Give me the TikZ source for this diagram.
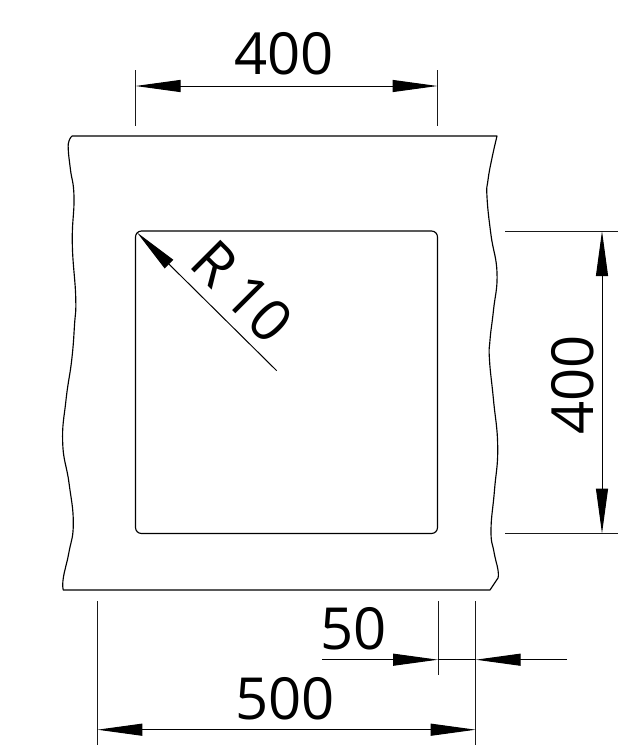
\documentclass[tikz,border=0pt]{standalone}
\usepackage{fontspec}
\setmainfont{Open Sans}
\usetikzlibrary{arrows.meta}
\tikzset{
  outline/.style={line width=1.15pt,black,line join=round},
  extline/.style={line width=1pt,black!90},
  dimline/.style={line width=1pt,black},
  bigtip/.tip={Triangle[length=45pt,width=12pt,color=black]},
  dimboth/.style={dimline,{bigtip}-{bigtip}},
  dimend/.style={dimline,-{bigtip}},
  dimtext/.style={inner sep=0pt,font=\fontsize{58}{58}\selectfont,black}
}
\begin{document}
\begin{tikzpicture}[x=1pt,y=-1pt]
\useasboundingbox (0,0) rectangle (637,755);
\fill[white] (0,0) rectangle (637,755);
% worktop outline with wavy cut edges
\draw[outline] (72,136) -- (497,136)
  -- plot[smooth,tension=0.8] coordinates {(497,136) (492,158) (488,180) (487,197) (491,235) (497,273) (493.5,310) (490,340) (489.5,360) (493.5,400) (497.7,447) (494.5,490) (491,530) (494,552) (498,570) (498,578)}
  -- (490,590) -- (63.3,590)
  -- plot[smooth,tension=0.8] coordinates {(63.3,590) (63.3,578) (69,552) (73.3,523) (69,483) (62.7,443) (66,400) (71.7,360) (74.5,325) (75.7,297) (72.3,243) (74,197) (70.5,170) (68.3,150) (69,141) (72,136)};
% sink opening
\draw[outline,rounded corners=6pt] (135.5,231) rectangle (437.5,533.5);
% named points
\coordinate (tl1) at (135.5,70);  \coordinate (tl2) at (135.5,126);
\coordinate (tr1) at (437.5,70);  \coordinate (tr2) at (437.5,126);
\coordinate (td1) at (135.5,86);  \coordinate (td2) at (437.5,86);
\coordinate (ra1) at (505,231);   \coordinate (ra2) at (618,231);
\coordinate (rb1) at (505,533.5); \coordinate (rb2) at (618,533.5);
\coordinate (rd1) at (602,231);   \coordinate (rd2) at (602,533.5);
\coordinate (bl1) at (97.3,601);  \coordinate (bl2) at (97.3,745);
\coordinate (br1) at (475.7,601); \coordinate (br2) at (475.7,745);
\coordinate (bm1) at (438,601);   \coordinate (bm2) at (438,675);
\coordinate (bd1) at (97.3,729.7); \coordinate (bd2) at (475.7,729.7);
\coordinate (fa) at (322,659.7);  \coordinate (fb) at (438,659.7);
\coordinate (fc) at (475.7,659.7); \coordinate (fd) at (567,659.7);
\coordinate (ra) at (137,232.5);  \coordinate (rz) at (276.7,370.7);
% extension lines
\draw[extline] (tl1) -- (tl2);
\draw[extline] (tr1) -- (tr2);
\draw[extline] (ra1) -- (ra2);
\draw[extline] (rb1) -- (rb2);
\draw[extline] (bl1) -- (bl2);
\draw[extline] (br1) -- (br2);
\draw[extline] (bm1) -- (bm2);
% dimension lines
\draw[dimboth] (td1) -- (td2);
\draw[dimboth] (rd1) -- (rd2);
\draw[dimboth] (bd1) -- (bd2);
\draw[dimend] (fa) -- (fb);
\draw[dimend] (fd) -- (fc);
\draw[dimline] (fb) -- (fc);
\draw[dimend] (rz) -- (ra);
% labels
\node[dimtext] (topdim) at (284,54) {400};
\node[dimtext,rotate=90] (rightdim) at (573,385) {400};
\node[dimtext] (fifty) at (353.5,628.5) {50};
\node[dimtext] (botdim) at (285,698.5) {500};
\node[dimtext,rotate=-45] (radius) at (242.5,291.5) {R\kern-3pt\ 10};
\end{tikzpicture}
\end{document}
